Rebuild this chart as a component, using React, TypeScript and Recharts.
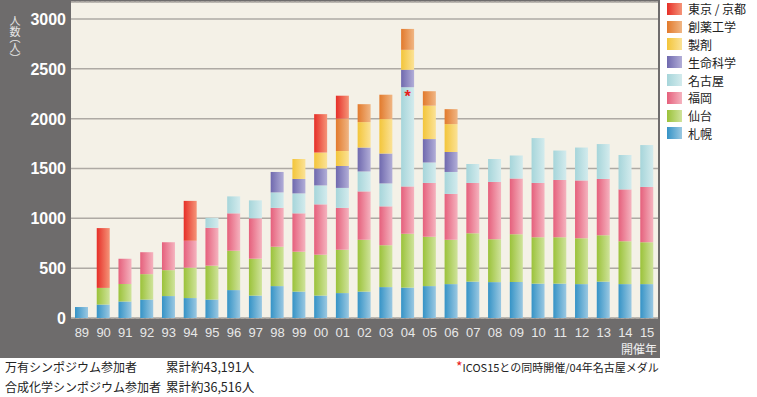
import React from 'react';
import { BarChart, Bar, XAxis, YAxis, CartesianGrid, LabelList } from 'recharts';

const years = ['89', '90', '91', '92', '93', '94', '95', '96', '97', '98', '99', '00', '01', '02', '03', '04', '05', '06', '07', '08', '09', '10', '11', '12', '13', '14', '15'];

const sapporo = [110, 135, 165, 185, 220, 200, 185, 280, 225, 320, 265, 225, 250, 265, 310, 305, 320, 340, 365, 360, 360, 345, 345, 340, 365, 340, 340];
const sendai = [0, 167, 175, 255, 260, 305, 340, 395, 370, 395, 400, 410, 435, 520, 420, 540, 495, 445, 485, 430, 480, 465, 465, 460, 465, 430, 420];
const fukuoka = [0, 0, 255, 220, 280, 270, 380, 375, 405, 390, 385, 505, 420, 485, 390, 475, 540, 460, 505, 575, 560, 545, 575, 580, 565, 520, 555];
const nagoya = [0, 0, 0, 0, 0, 0, 100, 170, 180, 155, 200, 190, 200, 200, 230, 995, 205, 220, 190, 230, 230, 450, 295, 330, 350, 345, 420];
const seimei = [0, 0, 0, 0, 0, 0, 0, 0, 0, 205, 145, 170, 220, 240, 300, 175, 235, 200, 0, 0, 0, 0, 0, 0, 0, 0, 0];
const seizai = [0, 0, 0, 0, 0, 0, 0, 0, 0, 0, 200, 160, 150, 255, 345, 200, 335, 280, 0, 0, 0, 0, 0, 0, 0, 0, 0];
const souyaku = [0, 0, 0, 0, 0, 0, 0, 0, 0, 0, 0, 0, 325, 180, 245, 210, 145, 150, 0, 0, 0, 0, 0, 0, 0, 0, 0];
const tokyo = [0, 600, 0, 0, 0, 400, 0, 0, 0, 0, 0, 385, 230, 0, 0, 0, 0, 0, 0, 0, 0, 0, 0, 0, 0, 0, 0];
// 04年の名古屋にだけ * 印
const nagoyaNote = years.map((y) => (y === '04' ? '*' : ''));

const majorTicks = [0, 500, 1000, 1500, 2000, 2500, 3000];
const minorTicks = Array.from({ length: 31 }, (_, i) => (i + 1) * 100).filter((v) => v % 500 !== 0);

const series = [
    { key: 'sapporo', name: '札幌', dark: '#3593c6', light: '#9ac8e2' },
    { key: 'sendai', name: '仙台', dark: '#9bc23a', light: '#cfe39b' },
    { key: 'fukuoka', name: '福岡', dark: '#e5607c', light: '#f5b3bf' },
    { key: 'nagoya', name: '名古屋', dark: '#a6d5da', light: '#d3ebed' },
    { key: 'seimei', name: '生命科学', dark: '#6f69ae', light: '#b2aed8' },
    { key: 'seizai', name: '製剤', dark: '#f3c53a', light: '#fbe296' },
    { key: 'souyaku', name: '創薬工学', dark: '#e27a2c', light: '#f0b684' },
    { key: 'tokyo', name: '東京 / 京都', dark: '#e62f28', light: '#f59478' },
];

const data = years.map((year, i) => ({
    year,
    sapporo: sapporo[i],
    sendai: sendai[i],
    fukuoka: fukuoka[i],
    nagoya: nagoya[i],
    seimei: seimei[i],
    seizai: seizai[i],
    souyaku: souyaku[i],
    tokyo: tokyo[i],
    note: nagoyaNote[i],
}));

const JP = '"Noto Sans CJK JP", sans-serif';

const YTick = ({ x, y, payload }: any) => (
    <text x={x} y={y} dy={6} textAnchor="end" fill="#ffffff" fontSize={16} fontWeight="bold" fontFamily="'Liberation Sans', Arial, sans-serif">
        {payload.value}
    </text>
);

const NoteLabel = ({ x, y, width, value }: any) => {
    if (!value) return null;
    return (
        <text x={x + width / 2} y={y + 15} textAnchor="middle" fill="#e8201c" fontSize={16} fontWeight="bold" fontFamily="'Liberation Sans', Arial, sans-serif">
            {value}
        </text>
    );
};

export default function App() {
    const legendItems = [...series].reverse();
    return (
        <div style={{ position: 'absolute', left: 0, top: 0, width: 757, height: 397, background: '#ffffff', fontFamily: JP }}>
            <div style={{ position: 'absolute', left: 0, top: 0, width: 660, height: 358, background: '#6e6c6c' }} />
            <div
                style={{
                    position: 'absolute',
                    left: 8,
                    top: 15,
                    width: 14,
                    color: '#e6e6e6',
                    fontSize: 11,
                    writingMode: 'vertical-rl',
                    lineHeight: '14px',
                    fontFeatureSettings: '"vpal"',
                }}
            >
                人数（人）
            </div>
            <div style={{ position: 'absolute', left: 621, top: 340, color: '#f0f0f0', fontSize: 12 }}>開催年</div>
            <div style={{ position: 'absolute', left: 0, top: 0 }}>
                <BarChart width={757} height={397} data={data} margin={{ top: 2, right: 99, bottom: 57, left: 0 }} barSize={13}>
                    <defs>
                        {series.map((s) => (
                            <linearGradient key={s.key} id={`g-${s.key}`} x1="0" y1="0" x2="1" y2="0">
                                <stop offset="0%" stopColor={s.dark} />
                                <stop offset="100%" stopColor={s.light} />
                            </linearGradient>
                        ))}
                    </defs>
                    <YAxis yAxisId="minor" hide domain={[0, 3170]} ticks={minorTicks} />
                    <CartesianGrid yAxisId="minor" vertical={false} fill="#f4f1e7" stroke="#c9c5bc" strokeDasharray="3 2" />
                    <CartesianGrid vertical={false} stroke="#aeaaa4" strokeWidth={1.5} />
                    <XAxis
                        dataKey="year"
                        axisLine={false}
                        tickLine={false}
                        tickMargin={4}
                        height={22}
                        interval={0}
                        tick={{ fill: '#e8e8e8', fontSize: 13, fontFamily: "'Liberation Sans', Arial, sans-serif" }}
                    />
                    <YAxis
                        domain={[0, 3170]}
                        ticks={majorTicks}
                        width={71}
                        axisLine={false}
                        tickLine={false}
                        tickSize={0}
                        tickMargin={5}
                        tick={<YTick />}
                        interval={0}
                    />
                    {series.map((s) => (
                        <Bar key={s.key} dataKey={s.key} name={s.name} stackId="a" fill={`url(#g-${s.key})`} isAnimationActive={false}>
                            {s.key === 'nagoya' && <LabelList dataKey="note" content={<NoteLabel />} />}
                        </Bar>
                    ))}
                </BarChart>
            </div>
            <div style={{ position: 'absolute', left: 667, top: 0 }}>
                {legendItems.map((s) => (
                    <div key={s.key} style={{ display: 'flex', alignItems: 'center', height: 17.8 }}>
                        <div style={{ width: 15, height: 12, background: `linear-gradient(to right, ${s.dark}, ${s.light})` }} />
                        <span style={{ marginLeft: 6, fontSize: 12, color: '#222' }}>{s.name}</span>
                    </div>
                ))}
            </div>
            <div style={{ position: 'absolute', left: 5, top: 357, fontSize: 12, color: '#222', lineHeight: '20px' }}>
                <div>万有シンポジウム参加者</div>
                <div>合成化学シンポジウム参加者</div>
            </div>
            <div style={{ position: 'absolute', left: 166, top: 357, fontSize: 12.5, color: '#222', lineHeight: '20px' }}>
                <div>累計約43,191人</div>
                <div>累計約36,516人</div>
            </div>
            <div style={{ position: 'absolute', left: 456, top: 358, fontSize: 11, color: '#222', lineHeight: '16px', whiteSpace: 'nowrap' }}>
                <span style={{ color: '#e8201c', fontSize: 14 }}>*</span>ICOS15との同時開催/04年名古屋メダル
            </div>
        </div>
    );
}
